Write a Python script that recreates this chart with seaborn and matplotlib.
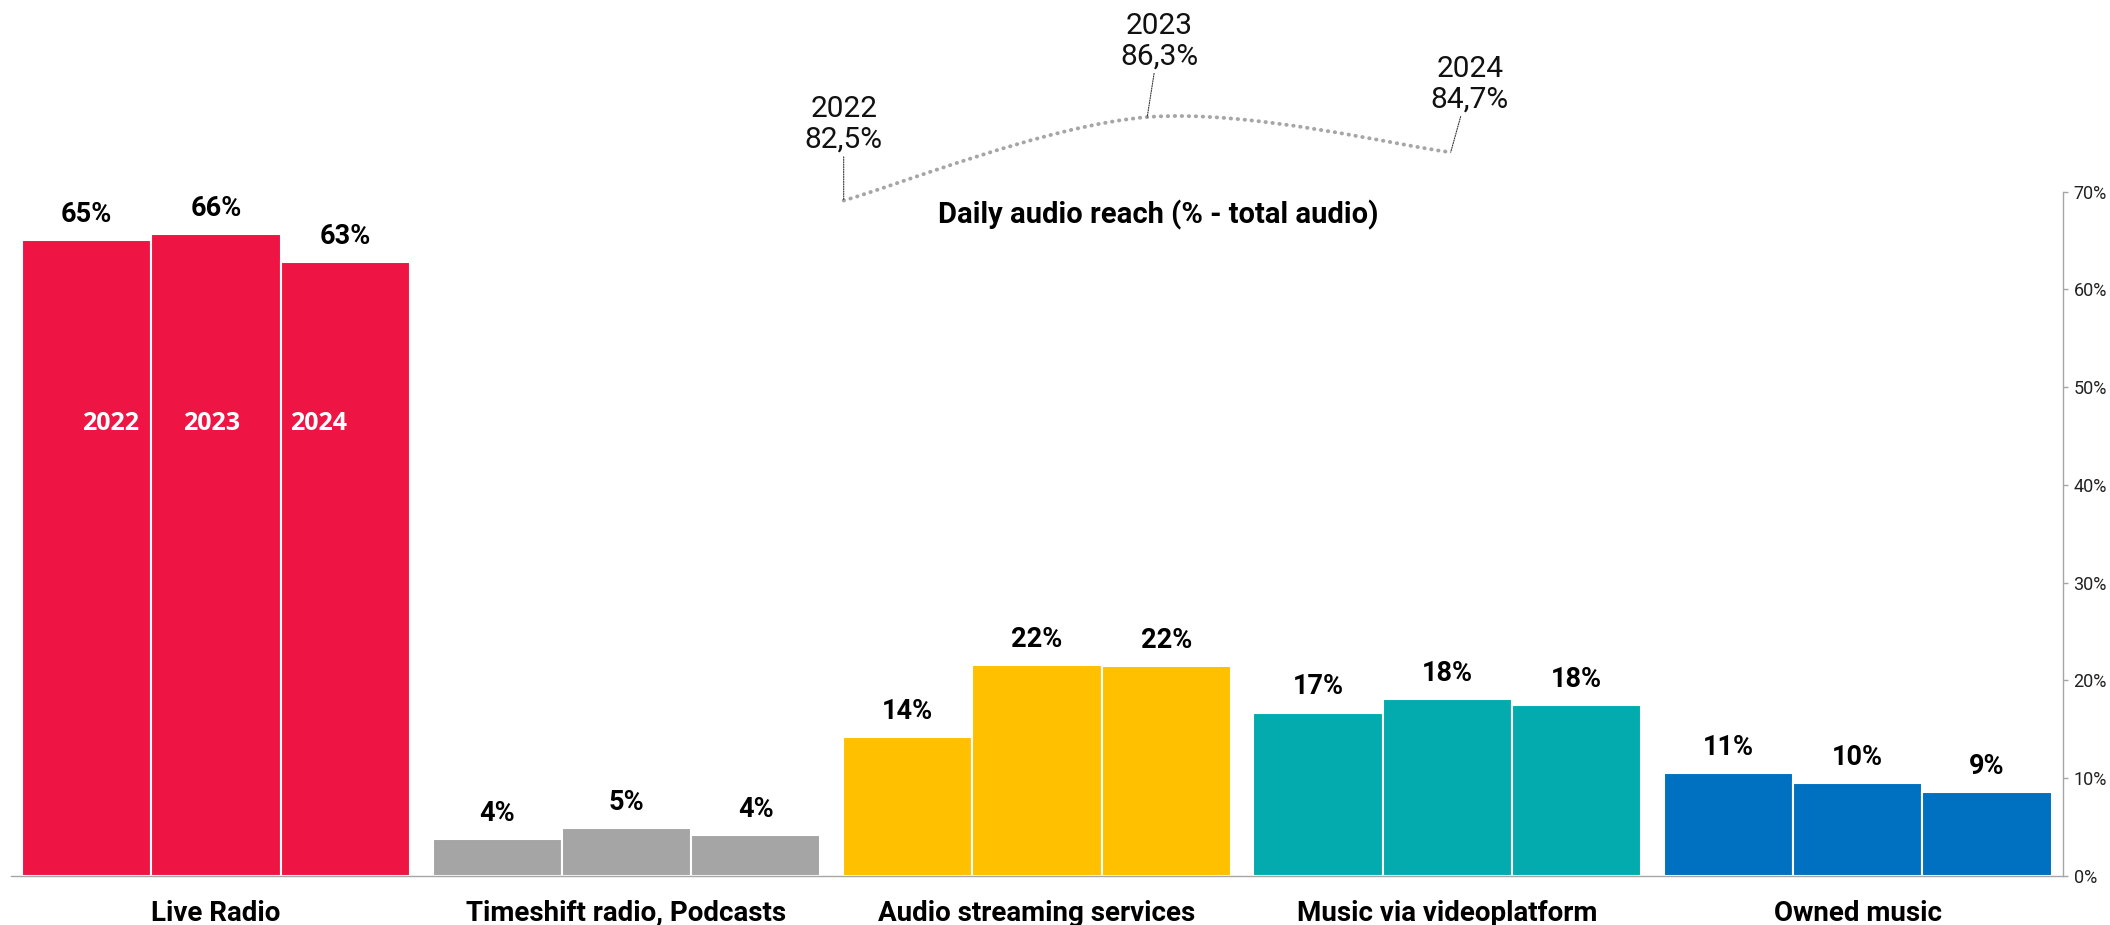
import numpy as np
import pandas as pd
import matplotlib
matplotlib.use("Agg")
import matplotlib.pyplot as plt
import seaborn as sns
from matplotlib.path import Path
from matplotlib.patches import PathPatch
from matplotlib.ticker import FixedLocator, FuncFormatter

# ---- data -------------------------------------------------------------
categories = ["Live Radio", "Timeshift radio, Podcasts", "Audio streaming services",
              "Music via videoplatform", "Owned music"]
years = ["2022", "2023", "2024"]
share_2022 = [65.1, 3.8, 14.2, 16.7, 10.5]
share_2023 = [65.7, 4.9, 21.6, 18.1, 9.5]
share_2024 = [62.8, 4.2, 21.5, 17.5, 8.6]
category_colors = ["#EE1443", "#A5A5A5", "#FFC000", "#03ABAE", "#0070C0"]

reach_years = [2022, 2023, 2024]
reach_values = [82.5, 86.3, 84.7]
y_ticks = list(range(0, 71, 10))

# ---- figure -----------------------------------------------------------
sns.set_style("white")
plt.rcParams["font.family"] = ["Roboto", "DejaVu Sans"]

W, H = 2110, 925
fig = plt.figure(figsize=(W / 100, H / 100), dpi=100)

px_left, px_right = 10.8, 2063.0
px_top, px_bottom = 191.7, 875.7
ax = fig.add_axes([px_left / W, 1 - px_bottom / H,
                   (px_right - px_left) / W, (px_bottom - px_top) / H])

df = pd.DataFrame({
    "category": categories * len(years),
    "year": np.repeat(years, len(categories)),
    "share": share_2022 + share_2023 + share_2024,
})

sns.barplot(data=df, x="category", y="share", hue="year", order=categories,
            hue_order=years, width=0.945, errorbar=None, legend=False,
            saturation=1, edgecolor="white", linewidth=1.5, ax=ax)

# colour every bar by its category and print its rounded value above it
for cont in ax.containers:
    for bar in cont:
        cx = bar.get_x() + bar.get_width() / 2
        idx = int(round(cx))
        bar.set_facecolor(category_colors[idx])
        h = bar.get_height()
        ax.annotate(f"{int(h + 0.5)}%", (cx, h), xytext=(0, 13),
                    textcoords="offset points", ha="center", va="baseline",
                    fontsize=19.5, fontweight="bold", color="black")

# year captions inside the Live Radio bars
year_label_x = [-0.258, -0.011, 0.251]
for x, yr in zip(year_label_x, years):
    ax.text(x, 45.6, yr, color="white", fontsize=18, fontweight="bold",
            family=["Open Sans", "DejaVu Sans"], ha="center", va="baseline")

ax.set_xlim(-0.5, len(categories) - 0.5)
ax.set_ylim(0, 70)
ax.set_xlabel("")
ax.set_ylabel("")
ax.grid(False)
for s in ["left", "top"]:
    ax.spines[s].set_visible(False)
for s in ["bottom", "right"]:
    ax.spines[s].set_color("#A6A6A6")
    ax.spines[s].set_linewidth(1.0)

ax.yaxis.tick_right()
ax.yaxis.set_major_locator(FixedLocator(y_ticks))
ax.yaxis.set_major_formatter(FuncFormatter(lambda v, p: f"{v:.0f}%"))
ax.tick_params(axis="y", direction="out", length=3.6, width=1, color="#A6A6A6",
               labelsize=13, pad=4, labelcolor="#222222")

ax.set_xticks(range(len(categories)))
ax.set_xticklabels(categories)
ax.tick_params(axis="x", which="major", length=0, pad=32.6, labelsize=20,
               labelcolor="black")
for lbl in ax.get_xticklabels():
    lbl.set_fontweight("bold")
    lbl.set_va("baseline")
ax.set_xticks(np.arange(-0.5, len(categories), 1), minor=True)
ax.tick_params(axis="x", which="minor", length=6.5, width=1, color="#A6A6A6",
               direction="out")

# ---- daily reach curve on its own small axes --------------------------
lx0, lx1 = 843.7, 1450.7
ly_low, ly_high = 200.5, 117.1
axl = fig.add_axes([lx0 / W, 1 - ly_low / H, (lx1 - lx0) / W, (ly_low - ly_high) / H])
axl.set_xlim(min(reach_years), max(reach_years))
axl.set_ylim(min(reach_values), max(reach_values))
axl.axis("off")
axl.patch.set_alpha(0)

pts = np.column_stack([reach_years, reach_values]).astype(float)
verts = [pts[0]]
codes = [Path.MOVETO]
n = len(pts)
for i in range(n - 1):
    p_prev = pts[max(i - 1, 0)]
    p0, p1 = pts[i], pts[i + 1]
    p_next = pts[min(i + 2, n - 1)]
    c1 = p0 + (p1 - p_prev) / 6
    c2 = p1 - (p_next - p0) / 6
    verts += [c1, c2, p1]
    codes += [Path.CURVE4] * 3
curve = PathPatch(Path(verts, codes), fill=False, edgecolor="#A6A6A6", lw=2.8,
                  linestyle=(0, (0.1, 1.7)), capstyle="round", clip_on=False)
axl.add_patch(curve)

label_offsets = [(0, 76), (12, 76), (19, 68)]
for x, y, off in zip(reach_years, reach_values, label_offsets):
    txt = f"{x}\n{y:.1f}%".replace(".", ",")
    axl.annotate(txt, (x, y), xytext=off, textcoords="offset pixels",
                 ha="center", va="center", fontsize=21.5, linespacing=1.1,
                 color="#111111", annotation_clip=False,
                 arrowprops=dict(arrowstyle="-", color="#333333", lw=0.8,
                                 linestyle=(0, (1, 1.2)), shrinkA=0, shrinkB=0))

fig.text(1158.6 / W, 1 - 215 / H, "Daily audio reach (% - total audio)",
         ha="center", va="center", fontsize=21, fontweight="bold", color="black")

fig.savefig("out.png", dpi=100)
